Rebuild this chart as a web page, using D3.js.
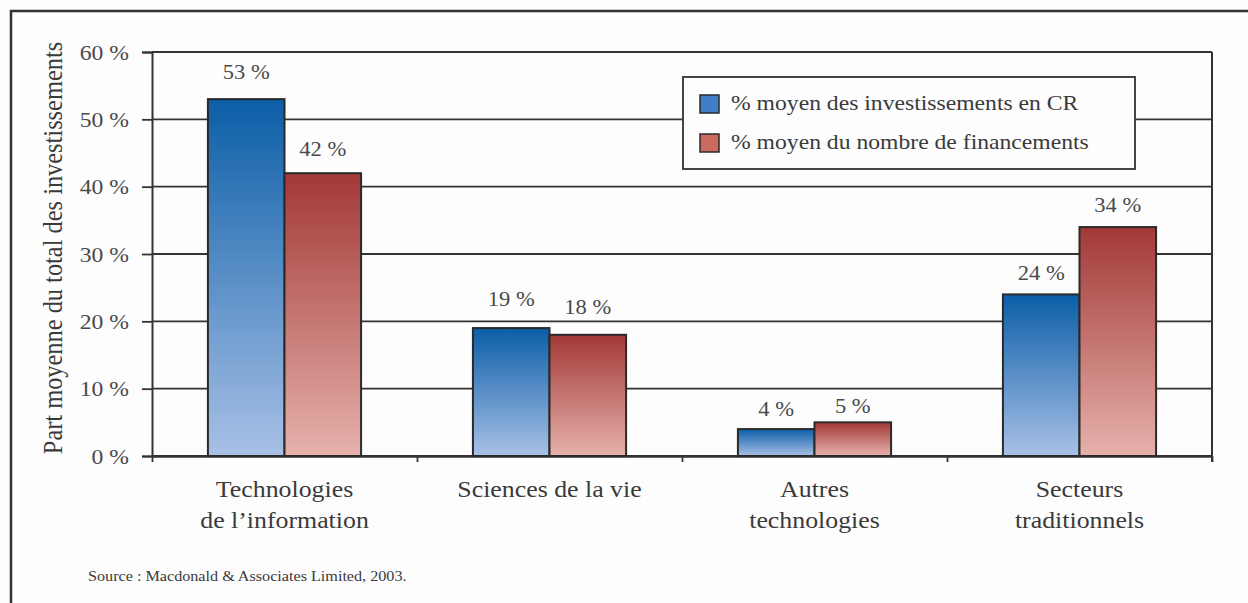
<!DOCTYPE html>
<html>
<head>
<meta charset="utf-8">
<script src="https://cdn.jsdelivr.net/npm/d3@7"></script>
<style>
  body { margin: 0; background: #fdfdfd; }
</style>
</head>
<body>
<div id="chart"></div>
<script>
// data
const categories = [["Technologies", "de l\u2019information"], ["Sciences de la vie"], ["Autres", "technologies"], ["Secteurs", "traditionnels"]];
const seriesNames = ["% moyen des investissements en CR", "% moyen du nombre de financements"];
const investValues = [53, 19, 4, 24];
const fundingValues = [42, 18, 5, 34];
const yTicks = [0, 10, 20, 30, 40, 50, 60];

const width = 1248;
const height = 603;
const marginLeft = 152;
const marginRight = 36;
const marginTop = 52;
const marginBottom = 147;
const FONT = "Liberation Serif";
const SX = 1.1; // the original type is a little wide
const textColor = "#3a3a3a";
// value labels were nudged by hand in the original, to keep clear of the grid
const labelGap = [[20, 17], [22, 21], [13, 9], [14, 15]];

const svg = d3.select("#chart")
              .append("svg")
              .attr("width", width)
              .attr("height", height)
              .attr("font-family", FONT);

// gradients for bars
const defs = svg.append("defs");
const gradStops = [
    { id: "gBlue", top: "#0b5ea7", bottom: "#a8c0e6" },
    { id: "gRed", top: "#a23937", bottom: "#e6b1ab" }
];
gradStops.forEach(g => {
    const lg = defs.append("linearGradient")
                   .attr("id", g.id)
                   .attr("x1", 0).attr("y1", 0).attr("x2", 0).attr("y2", 1);
    lg.append("stop").attr("offset", "0%").attr("stop-color", g.top);
    lg.append("stop").attr("offset", "100%").attr("stop-color", g.bottom);
});
const legendFill = ["#3f7fc8", "#cc6a60"];

// frame
svg.append("path")
   .attr("d", `M11,${height} V11 H${width}`)
   .attr("fill", "none")
   .attr("stroke", "#333")
   .attr("stroke-width", 2.5);

// scales
const x0 = d3.scaleBand()
             .domain(d3.range(categories.length))
             .range([marginLeft, width - marginRight])
             .padding(0);
const x1 = d3.scaleBand()
             .domain([0, 1])
             .range([0, x0.bandwidth()])
             .paddingInner(0)
             .paddingOuter(0.73);
const y = d3.scaleLinear()
            .domain([0, 60])
            .range([height - marginBottom, marginTop]);
const xTickScale = d3.scaleLinear()
                     .domain([0, categories.length])
                     .range([marginLeft, width - marginRight]);

// gridlines
svg.append("g")
   .selectAll("line")
   .data(yTicks)
   .enter()
   .append("line")
   .attr("x1", marginLeft)
   .attr("x2", width - marginRight)
   .attr("y1", d => y(d))
   .attr("y2", d => y(d))
   .attr("stroke", "#333")
   .attr("stroke-width", 1.8);

// right border of plot
svg.append("line")
   .attr("x1", width - marginRight).attr("x2", width - marginRight)
   .attr("y1", y(60)).attr("y2", y(0) + 6)
   .attr("stroke", "#333").attr("stroke-width", 2);

// y axis
const yAxis = d3.axisLeft(y)
                .tickValues(yTicks)
                .tickFormat(d => `${d} %`)
                .tickSize(10);
const yg = svg.append("g")
              .attr("transform", `translate(${marginLeft},0)`)
              .call(yAxis);
yg.select(".domain").attr("stroke", "#333").attr("stroke-width", 2);
yg.selectAll(".tick line").attr("stroke", "#333").attr("stroke-width", 1.8);
yg.selectAll(".tick text")
  .attr("x", -23 / SX)
  .attr("dy", "0.33em")
  .attr("transform", `scale(${SX},1)`)
  .style("font-family", FONT)
  .style("font-size", "21.5px")
  .attr("fill", "#4a4a4a");

// x axis (boundary ticks)
const xAxis = d3.axisBottom(xTickScale)
                .tickValues(d3.range(categories.length + 1))
                .tickFormat("")
                .tickSize(6)
                .tickSizeOuter(0);
const xg = svg.append("g")
              .attr("transform", `translate(0,${y(0)})`)
              .call(xAxis);
xg.select(".domain").attr("stroke", "#333").attr("stroke-width", 2.5);
xg.selectAll(".tick line").attr("stroke", "#333").attr("stroke-width", 1.8);

// bars
const seriesValues = [investValues, fundingValues];
const groups = svg.append("g")
                  .selectAll("g")
                  .data(categories)
                  .enter()
                  .append("g")
                  .attr("transform", (d, i) => `translate(${x0(i)},0)`);

groups.selectAll("rect")
      .data((d, i) => seriesValues.map((s, k) => ({ k: k, v: s[i] })))
      .enter()
      .append("rect")
      .attr("x", d => x1(d.k))
      .attr("y", d => y(d.v))
      .attr("width", x1.bandwidth())
      .attr("height", d => y(0) - y(d.v))
      .attr("fill", d => `url(#${gradStops[d.k].id})`)
      .attr("stroke", "#2a2a2a")
      .attr("stroke-width", 2);

groups.selectAll("text.val")
      .data((d, i) => seriesValues.map((s, k) => ({ k: k, v: s[i], gap: labelGap[i][k] })))
      .enter()
      .append("text")
      .attr("class", "val")
      .attr("transform", d => `translate(${x1(d.k) + x1.bandwidth() / 2},${y(d.v) - d.gap}) scale(${SX},1)`)
      .attr("text-anchor", "middle")
      .style("font-family", FONT)
      .style("font-size", "20.5px")
      .attr("fill", "#4a4a4a")
      .text(d => `${d.v} %`);

// category labels
const catLabels = svg.append("g")
                     .selectAll("text")
                     .data(categories)
                     .enter()
                     .append("text")
                     .attr("text-anchor", "middle")
                     .attr("transform", (d, i) => `translate(${x0(i) + x0.bandwidth() / 2},${y(0) + 41}) scale(${SX},1)`)
                     .style("font-family", FONT)
                     .style("font-size", "23.5px")
                     .attr("fill", textColor);
catLabels.selectAll("tspan")
         .data(d => d)
         .enter()
         .append("tspan")
         .attr("x", 0)
         .attr("dy", (d, i) => i === 0 ? 0 : 31)
         .text(d => d);

// y title
svg.append("text")
   .attr("transform", `translate(62,${(y(0) + 40) / 2}) scale(${SX},1) rotate(-90)`)
   .attr("text-anchor", "middle")
   .style("font-family", FONT)
   .style("font-size", "24.4px")
   .attr("fill", textColor)
   .text("Part moyenne du total des investissements");

// legend
const legend = svg.append("g").attr("transform", "translate(683,77)");
legend.append("rect")
      .attr("width", 452)
      .attr("height", 92)
      .attr("fill", "#fdfdfd")
      .attr("stroke", "#444")
      .attr("stroke-width", 2);
const items = legend.selectAll("g.item")
                    .data(seriesNames)
                    .enter()
                    .append("g")
                    .attr("class", "item")
                    .attr("transform", (d, i) => `translate(17,${18 + i * 39})`);
items.append("rect")
     .attr("width", 19)
     .attr("height", 18)
     .attr("fill", (d, i) => legendFill[i])
     .attr("stroke", "#2a2a2a")
     .attr("stroke-width", 1.5);
items.append("text")
     .attr("transform", `translate(31,15) scale(${SX},1)`)
     .style("font-family", FONT)
     .style("font-size", "21.5px")
     .attr("fill", textColor)
     .text(d => d);

// source
svg.append("text")
   .attr("transform", `translate(88,581) scale(${SX},1)`)
   .style("font-family", FONT)
   .style("font-size", "14.7px")
   .attr("fill", textColor)
   .text("Source : Macdonald & Associates Limited, 2003.");
</script>
</body>
</html>
